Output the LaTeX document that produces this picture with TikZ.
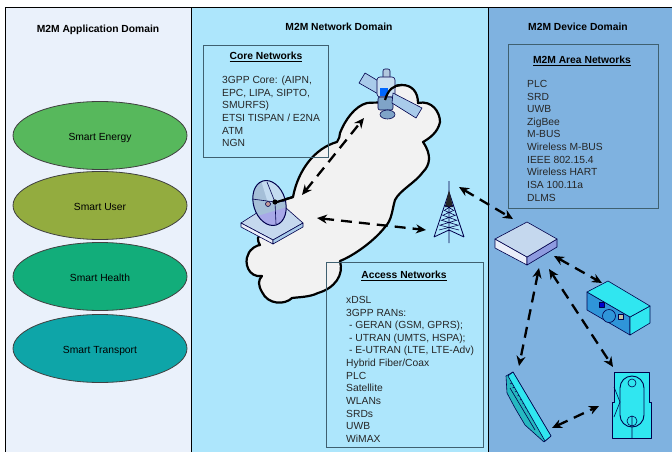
\documentclass[tikz,border=0pt]{standalone}
\usepackage{fontspec}
\setmainfont{Liberation Sans}
\usetikzlibrary{shapes.geometric, arrows.meta}

\definecolor{appBack}{HTML}{EAF1FB}
\definecolor{netBack}{HTML}{ADE6FC}
\definecolor{devBack}{HTML}{7FB2E0}
\definecolor{ellE}{HTML}{57B85C}
\definecolor{ellU}{HTML}{93AC3F}
\definecolor{ellH}{HTML}{12AD7A}
\definecolor{ellT}{HTML}{0EA5A8}
\definecolor{boxLine}{HTML}{3F6070}
\definecolor{cloudBack}{HTML}{F2F2F2}
\definecolor{aqua}{HTML}{30E6F0}
\definecolor{steel}{HTML}{A9CBEA}
\definecolor{steelDark}{HTML}{7FA4C8}
\definecolor{violet}{HTML}{A8A8E8}
\definecolor{boxTop}{HTML}{C5D8EE}
\definecolor{boxLeft}{HTML}{EAEEFA}
\definecolor{boxRight}{HTML}{8E9BE0}

\begin{document}
\begin{tikzpicture}[x=1pt, y=-1pt, font=\fontsize{10.3}{12.65}\selectfont]
	\tikzstyle{domainbox}  = [rectangle, anchor=north west, inner sep=0pt, draw=black, line width=0.7pt, minimum height=446pt]
	\tikzstyle{ovalbox}    = [ellipse, minimum width=174pt, minimum height=68pt, inner sep=0pt, draw=black!75, line width=0.8pt, text height=9.5pt, text depth=0pt]
	\tikzstyle{netbox}  = [rectangle, anchor=north west, inner sep=0pt, draw=boxLine, line width=0.9pt]
	\tikzstyle{headline}   = [inner sep=0pt, font=\fontsize{10.3}{12.65}\selectfont\bfseries]
	\tikzstyle{listing} = [anchor=north west, inner sep=0pt, align=left, text=black!85]
	\tikzstyle{linkline}    = [{Stealth[length=10pt,width=9pt]}-{Stealth[length=10pt,width=9pt]}, line width=2.3pt, dash pattern=on 11pt off 7pt]
	\tikzstyle{iconline}    = [draw=black!70!blue, line width=0.6pt, line join=round]
	\tikzstyle{cloudline} = [draw=black, line width=2.2pt, line join=round]

	\useasboundingbox (0,0) rectangle (672,452);

%	domains
	\node[domainbox, fill=appBack, minimum width=186pt] (appdomain) at (5,7) {};
	\node[domainbox, fill=netBack, minimum width=297pt] (netdomain) at (191,7) {};
	\node[domainbox, fill=devBack, minimum width=184pt] (devdomain) at (488,7) {};

	\node[headline] (apptitle) at (98,30) {M2M Application Domain};
	\node[headline] (nettitle) at (339,27) {M2M Network Domain};
	\node[headline] (devtitle) at (578,27) {M2M Device Domain};

	\foreach \name/\y/\col/\text in {energy/135.5/ellE/Smart Energy, user/205.5/ellU/Smart User, health/276.5/ellH/Smart Health, transport/348.5/ellT/Smart Transport}
		\node[ovalbox, fill=\col] (\name) at (100, \y) {\text};

%	cloud
	\path[cloudline, fill=cloudBack] (293,197) .. controls (298,170) and (315,148) .. (337,142)
		.. controls (339,139) and (340,136) .. (340,133)
		.. controls (345,120) and (355,106) .. (367,103)
		.. controls (372,102) and (380,104) .. (385,100)
		.. controls (388,90) and (393,85) .. (402,85)
		.. controls (412,85) and (418,92) .. (418,103)
		.. controls (432,100) and (440,112) .. (440,122)
		.. controls (438,132) and (430,138) .. (423,142)
		.. controls (432,155) and (430,165) .. (423,172)
		.. controls (415,183) and (400,190) .. (395,200)
		.. controls (392,210) and (392,220) .. (385,227)
		.. controls (375,240) and (355,255) .. (340,261)
		.. controls (344,275) and (335,288) .. (318,293)
		.. controls (310,297) and (300,297) .. (292,298)
		.. controls (285,305) and (268,305) .. (262,292)
		.. controls (258,285) and (258,280) .. (262,276)
		.. controls (248,278) and (244,262) .. (248,255)
		.. controls (250,248) and (258,245) .. (260,245)
		.. controls (258,242) and (258,240) .. (258,238)
		-- (270,215) -- (277,202) -- cycle;

%	satellite
	\draw[iconline, fill=steel] (365,73) -- (359,83) -- (380,95) -- (385,85) -- cycle;
	\draw[iconline, fill=steelDark!60!white, rounded corners=2pt] (383,69) rectangle (390,79);
	\draw[iconline, fill=steel!60!white, rounded corners=3pt] (377,77) rectangle (395,97);
	\fill[blue!60!cyan] (380,88) rectangle (388,96);
	\draw[iconline, fill=steelDark, rounded corners=2pt] (378,97) rectangle (393,110);
	\draw[iconline, fill=steelDark] (387.5,114.5) ellipse (7.5pt and 4.5pt);
	\draw[iconline, fill=steel] (393,93) -- (422,108) -- (416,118) -- (392,103) -- cycle;
	\draw[cloudline] (385,100) .. controls (388,90) and (393,85) .. (402,85);

%	dish
	\draw[iconline, fill=boxTop] (241,223) -- (277,200) -- (303,223) -- (273,240) -- cycle;
	\draw[iconline, fill=boxLeft] (241,223) -- (273,240) -- (273,244) -- (241,227) -- cycle;
	\draw[iconline, fill=steel] (303,223) -- (273,240) -- (273,244) -- (303,227) -- cycle;
	\begin{scope}[rotate around={17:(269.5,203)}]
		\begin{scope}
			\clip (269.5,203) ellipse (16pt and 23pt);
			\fill[steelDark!70!white] (250,175) rectangle (290,232);
			\fill[steel!70!white] (268,175) rectangle (290,203);
			\fill[violet] (250,212) rectangle (290,232);
		\end{scope}
		\draw[iconline, line width=1pt] (269.5,203) ellipse (16pt and 23pt);
	\end{scope}
	\draw[iconline] (252,199) -- (275,202) (275,202) -- (267,182) (275,202) -- (276,224) (275,202) -- (286,201);
	\draw[iconline, fill=red!40!black!40] (268,204) circle (2.5pt);
	\fill[black] (275,202) circle (2.6pt);
	\draw[cloudline] (277,202) -- (293,197);

%	tower
	\draw[iconline, line width=0.8pt] (449,181) -- (449,243) (449,192) -- (434,237) (449,192) -- (464,237) (434,237) -- (449,230) -- (464,237);
	\fill[black!85] (449,190) -- (445,207) -- (453,207) -- cycle;
	\foreach \y/\w in {205/4, 210/5.5, 215/7, 220/8.5, 225/10}
		\draw[iconline] (449-\w,\y) -- (449+\w,\y+5) (449+\w,\y) -- (449-\w,\y+5);

%	gateway
	\draw[iconline, fill=boxLeft] (495,239) -- (527,257) -- (527,265) -- (495,248) -- cycle;
	\draw[iconline, fill=boxRight] (557,239) -- (527,257) -- (527,265) -- (557,247) -- cycle;
	\draw[iconline, fill=boxTop] (495,239) -- (527,222) -- (557,239) -- (527,257) -- cycle;

%	camera
	\draw[iconline, fill=cyan!70!blue!85!white] (587,292) -- (630,317) -- (630,335) -- (587,310) -- cycle;
	\draw[iconline, fill=aqua] (650,306) -- (630,317) -- (630,335) -- (650,323) -- cycle;
	\draw[iconline, fill=aqua] (587,292) -- (608,281) -- (650,306) -- (630,317) -- cycle;
	\draw[iconline, fill=blue!80!black] (599,302) rectangle (604,307);
	\draw[iconline, fill=yellow!40!black!45] (618,314) rectangle (623,319);
	\draw[iconline, fill=cyan!70!blue!85!white] (609,316) circle (6.5pt);

%	screen
	\draw[iconline, fill=aqua!80!black] (506,376) -- (513,372) -- (551,436) -- (544,442) -- (525,425) -- (515,408) -- (507,393) -- cycle;
	\foreach \i in {0,...,13}
		\draw[iconline, line width=0.5pt] (510+2.5*\i,384+4*\i) -- (514+2.5*\i,382+4*\i);
	\draw[iconline, fill=aqua] (508,376) -- (513,372) -- (551,436) -- (545,441) -- cycle;
	\draw[iconline] (510,388) -- (535,430);

%	phone
	\draw[iconline, line width=0.9pt, fill=aqua] (614,372) -- (649,372) -- (649,402) -- (651,402) -- (651,438) -- (612,438) -- (612,402) -- (614,402) -- cycle;
	\draw[iconline, line width=0.9pt] (620,388) arc[start angle=180, end angle=360, x radius=12pt, y radius=-12pt] -- (644,415) arc[start angle=0, end angle=180, x radius=12pt, y radius=-12pt] -- cycle;
	\draw[iconline] (632,383) circle (4pt);
	\draw[iconline] (632,421) circle (5pt) (632,416) -- (632,426) (632,427) -- (632,438);
	\draw[iconline] (614,387) -- (620,402) -- (614,417);

%	boxes
	\node[netbox, minimum width=125pt, minimum height=112pt] (core) at (203,45) {};
	\node[netbox, minimum width=157pt, minimum height=185pt] (access) at (326,262) {};
	\node[netbox, minimum width=150pt, minimum height=164pt] (area) at (508,44) {};

	\node[headline] (coretitle) at (266,57) {\underline{Core Networks}};
	\node[headline] (accesstitle) at (404,276) {\underline{Access Networks}};
	\node[headline] (areatitle) at (582,61) {\underline{M2M Area Networks}};

	\node[listing] (corelist) at (222,76) {3GPP Core: (AIPN,\\EPC, LIPA, SIPTO,\\SMURFS)\\ETSI TISPAN / E2NA\\ATM\\NGN};
	\node[listing] (accesslist) at (346,296) {xDSL\\3GPP RANs:\\\ - GERAN (GSM, GPRS);\\\ - UTRAN (UMTS, HSPA);\\\ - E-UTRAN (LTE, LTE-Adv)\\Hybrid Fiber/Coax\\PLC\\Satellite\\WLANs\\SRDs\\UWB\\WiMAX};
	\node[listing] (arealist) at (527,80) {PLC\\SRD\\UWB\\ZigBee\\M-BUS\\Wireless M-BUS\\IEEE 802.15.4\\Wireless HART\\ISA 100.11a\\DLMS};

%	connector ends
	\foreach \name/\x/\y in {dishA/302/195, satA/364/118, dishB/317/218, towerA/426/230, towerB/459/187, gateA/513/219, gateB/554/256, camA/602/283, gateC/539/268, screenA/519/366, gateD/549/269, phoneA/613/367, screenB/552/428, phoneB/599/406}
		\coordinate (\name) at (\x, \y);

	\foreach \from/\to in {dishA/satA, dishB/towerA, towerB/gateA, gateB/camA, gateC/screenA, gateD/phoneA, screenB/phoneB}
		\draw[linkline] (\from) -- (\to);
\end{tikzpicture}
\end{document}
